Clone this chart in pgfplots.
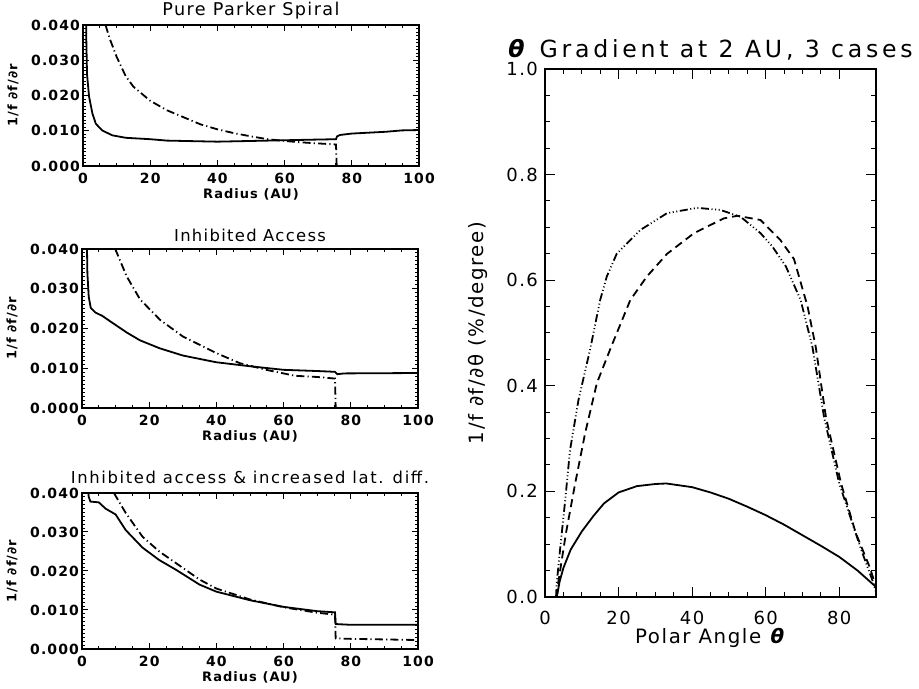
\documentclass[border=0pt]{standalone}
\usepackage{fontspec}
\setmainfont{DejaVu Sans}
\newfontfamily\idl[LetterSpace=8]{DejaVu Sans}
\newfontfamily\idlw[LetterSpace=10]{DejaVu Sans}
\newfontfamily\idlt[LetterSpace=16]{DejaVu Sans}
\usepackage{pgfplots}
\pgfplotsset{compat=1.18}

% shared look of the three radial panels
\pgfplotsset{
  radial/.style={
    scale only axis, width=168pt,
    xmin=0, xmax=100, ymin=0, ymax=0.04,
    xtick={0,20,40,60,80,100}, ytick={0,0.01,0.02,0.03,0.04},
    minor x tick num=3, minor y tick num=9,
    major tick length=3pt, minor tick length=1.5pt,
    axis line style={line width=0.9pt}, every tick/.style={black, line width=0.5pt},
    tick label style={font=\idl\bfseries\fontsize{7}{8}\selectfont},
    scaled y ticks=false,
    yticklabel style={/pgf/number format/fixed, /pgf/number format/fixed zerofill,
      /pgf/number format/precision=3, xshift=2pt},
    /pgf/number format/assume math mode=true,
    xlabel={Radius (AU)}, ylabel={1/f ∂f/∂r},
    label style={font=\idl\bfseries\fontsize{6.5}{7}\selectfont},
    xlabel style={at={(axis description cs:0.5,0)}, anchor=center, yshift=-14pt},
    ylabel style={at={(axis description cs:0,0.5)}, anchor=center, yshift=35pt},
    title style={font=\idl\fontsize{8.2}{9}\selectfont, at={(axis description cs:0.5,1)}, anchor=center},
    xticklabel style={yshift=0pt},
  },
  sol/.style={black, line width=0.9pt},
  dd/.style={black, line width=0.9pt, dash pattern=on 4pt off 1.6pt on 0.6pt off 1.6pt},
}

\begin{document}
\begin{tikzpicture}
\useasboundingbox (0,0) rectangle (459.5pt,344.5pt);

% ---- Pure Parker Spiral
\begin{axis}[radial, height=70.5pt, at={(41.5pt,261.5pt)}, anchor=south west,
  title={Pure Parker Spiral}, title style={yshift=1pt, font=\idl\fontsize{8.8}{9}\selectfont}]
\addplot[sol] coordinates {(0.9,0.045) (1.0,0.035) (1.2,0.026) (1.8,0.0197) (2.8,0.0149)
  (3.8,0.012) (5.7,0.0101) (8.7,0.0087) (12.7,0.008) (20,0.0076) (25,0.0072) (30,0.0071)
  (40,0.0069) (50,0.0071) (60,0.0073) (70,0.0075) (75.3,0.0076) (75.6,0.0084) (76.5,0.0088)
  (80,0.0092) (90,0.0097) (95,0.0101) (100,0.0102)};
\addplot[dd] coordinates {(6.7,0.040) (8,0.036) (10,0.031) (12.7,0.0255) (15,0.0225)
  (20,0.0185) (25,0.0158) (30,0.0138) (35,0.0118) (40,0.0104) (45,0.0093) (50,0.0084)
  (55,0.0076) (60,0.0071) (65,0.0067) (70,0.0064) (75.3,0.0061) (75.5,0) (100,0)};
\end{axis}

% ---- Inhibited Access
\begin{axis}[radial, height=79.5pt, at={(41pt,140.5pt)}, anchor=south west,
  title={Inhibited Access}, title style={yshift=1pt}]
\addplot[sol] coordinates {(1.4,0.045) (1.6,0.034) (2.0,0.028) (2.6,0.0252) (4,0.024)
  (6,0.0232) (8.4,0.0218) (13.3,0.019) (17.3,0.017) (23.2,0.015) (30,0.0132) (40,0.0115)
  (50,0.0105) (60,0.0096) (70,0.0093) (75.3,0.0091) (76,0.0085) (78,0.0087) (100,0.0088)};
\addplot[dd] coordinates {(9.9,0.040) (13.3,0.0331) (17.3,0.0273) (23.2,0.0222) (30,0.018)
  (40,0.0138) (46.9,0.0113) (54.8,0.0096) (63.4,0.0081) (70,0.0078) (75.3,0.0074)
  (75.5,0) (100,0)};
\end{axis}

% ---- Inhibited access & increased lat. diff.
\begin{axis}[radial, height=78pt, at={(41pt,20pt)}, anchor=south west,
  title={Inhibited access \& increased lat. diff.},
  title style={yshift=2pt, font=\idlw\fontsize{8.2}{9}\selectfont}]
\addplot[sol] coordinates {(1.8,0.041) (2.0,0.039) (2.5,0.0378) (5,0.0376) (7,0.036)
  (10,0.0345) (13,0.0305) (18,0.026) (23,0.0228) (28,0.0203) (35,0.0165) (40,0.0147)
  (50,0.0125) (60,0.0108) (70,0.0097) (75.3,0.0094) (75.5,0.0064) (80,0.0062) (100,0.0062)};
\addplot[dd] coordinates {(9.5,0.040) (13,0.0349) (18,0.0288) (23,0.025) (28,0.022)
  (35,0.0178) (40,0.0155) (50,0.0127) (60,0.0107) (70,0.0093) (75.3,0.0088) (75.5,0.0027)
  (80,0.0026) (100,0.0023)};
\end{axis}

% ---- theta gradient at 2 AU
\begin{axis}[scale only axis, width=165.5pt, height=264pt,
  at={(272.5pt,46pt)}, anchor=south west,
  xmin=0, xmax=90, ymin=0, ymax=1,
  xtick={0,20,40,60,80}, ytick={0,0.2,0.4,0.6,0.8,1.0},
  minor x tick num=3, minor y tick num=3,
  major tick length=5pt, minor tick length=2.5pt,
  axis line style={line width=0.9pt}, every tick/.style={black, line width=0.5pt},
  tick label style={font=\idl\fontsize{9}{10}\selectfont},
  yticklabel style={/pgf/number format/fixed, /pgf/number format/fixed zerofill,
    /pgf/number format/precision=1},
  /pgf/number format/assume math mode=true,
  xticklabel style={yshift=-3.5pt},
  title={\textbf{\textit{θ}} Gradient at 2 AU, 3 cases},
  title style={font=\idlt\fontsize{11.8}{13}\selectfont, at={(axis description cs:0.5,1)}, anchor=center, yshift=3.5pt},
  xlabel={Polar Angle \textbf{\textit{θ}}}, ylabel={1/f ∂f/∂θ (\%/degree)},
  label style={font=\idl\fontsize{9.9}{11}\selectfont},
  xlabel style={at={(axis description cs:0.5,0)}, anchor=center, yshift=-20.5pt},
  ylabel style={at={(axis description cs:0,0.5)}, anchor=center, yshift=33.5pt},
]
\addplot[sol] coordinates {(3.2,0) (4,0.03) (5,0.055) (7,0.09) (10,0.124) (13,0.152)
  (16,0.177) (20,0.198) (25,0.21) (30,0.214) (33,0.215) (40,0.208) (45,0.198) (50,0.186)
  (55,0.171) (60,0.155) (65,0.137) (70,0.117) (75,0.097) (80,0.076) (85,0.05) (90,0.019)};
\addplot[black, line width=0.9pt, dash pattern=on 4pt off 2.5pt] coordinates {(3.2,0)
  (3.6,0.027) (5.7,0.121) (8.2,0.215) (10.9,0.31) (14.1,0.405) (18,0.474) (23.2,0.5625)
  (27.7,0.607) (33.2,0.65) (40.5,0.689) (48.6,0.717) (52.3,0.722) (58.6,0.714) (64,0.676)
  (67.7,0.64) (71.4,0.55) (73.6,0.474) (76.4,0.34) (80.5,0.215) (84.5,0.121) (88.2,0.058)
  (90,0.02)};
\addplot[black, line width=0.9pt, dash pattern=on 4pt off 1.3pt on 0.5pt off 1.3pt on 0.5pt off 1.3pt on 0.5pt off 1.3pt]
  coordinates {(3,0) (3.2,0.027) (4.1,0.09) (5.5,0.184) (6.8,0.278) (9.1,0.373) (12.3,0.47)
  (15,0.5625) (16.8,0.607) (19.5,0.65) (25.9,0.695) (33.2,0.727) (41.4,0.737) (47.7,0.733)
  (53.2,0.72) (58.6,0.689) (61.8,0.664) (65.5,0.626) (69.5,0.5625) (72.7,0.474) (75.9,0.34)
  (80,0.215) (86,0.089) (89,0.032) (90,0.01)};
\end{axis}
\end{tikzpicture}
\end{document}
